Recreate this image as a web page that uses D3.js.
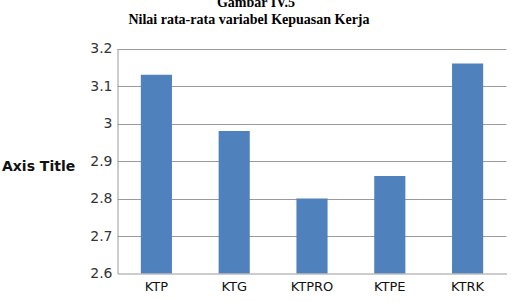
<!DOCTYPE html>
<html>
<head>
<meta charset="utf-8">
<script src="https://cdn.jsdelivr.net/npm/d3@7"></script>
<style>
  body { margin: 0; background: #fff; }
  svg { display: block; }
</style>
</head>
<body>
<svg id="chart" width="514" height="301"></svg>
<script>
const categories = ['KTP', 'KTG', 'KTPRO', 'KTPE', 'KTRK'];
const values = [3.13, 2.98, 2.80, 2.86, 3.16];
const yTicks = [2.6, 2.7, 2.8, 2.9, 3.0, 3.1, 3.2];

const svg = d3.select('#chart');
const plotLeft = 117.5, plotRight = 506.5, plotTop = 48.5, plotBottom = 273.5;

const x = d3.scaleBand().domain(categories).range([plotLeft, plotRight])
  .paddingInner(0.6).paddingOuter(0.3);
const y = d3.scaleLinear().domain([2.6, 3.2]).range([plotBottom, plotTop]);

// title
svg.append('text').attr('x', 256).attr('y', 7)
  .attr('text-anchor', 'middle')
  .style('font', 'bold 14px "Liberation Serif", serif')
  .text('Gambar IV.5');
svg.append('text').attr('x', 249).attr('y', 24)
  .attr('text-anchor', 'middle')
  .style('font', 'bold 14px "Liberation Serif", serif')
  .text('Nilai rata-rata variabel Kepuasan Kerja');

// gridlines
svg.append('g').selectAll('line').data(yTicks.slice(1)).join('line')
  .attr('x1', plotLeft).attr('x2', plotRight)
  .attr('y1', d => Math.round(y(d)) + 0.5).attr('y2', d => Math.round(y(d)) + 0.5)
  .attr('stroke', '#9a9a9a').attr('stroke-width', 1);

// bars
svg.append('g').selectAll('rect').data(values).join('rect')
  .attr('x', (d, i) => x(categories[i]))
  .attr('width', x.bandwidth())
  .attr('y', d => y(d))
  .attr('height', d => plotBottom - y(d))
  .attr('fill', '#4f81bd');

// axes
const yAxis = svg.append('g').attr('transform', `translate(${plotLeft},0)`)
  .call(d3.axisLeft(y).tickValues(yTicks).tickSize(0).tickPadding(5)
    .tickFormat(d => d3.format('')(+d.toFixed(1))));
yAxis.select('.domain').attr('stroke', '#9a9a9a');
yAxis.selectAll('text').style('font', '14px "DejaVu Sans", sans-serif').attr('fill', '#333');

const xAxis = svg.append('g').attr('transform', `translate(0,${plotBottom})`)
  .call(d3.axisBottom(x).tickSize(0).tickPadding(8));
xAxis.select('.domain').attr('stroke', '#9a9a9a');
xAxis.selectAll('text').style('font', '13px "DejaVu Sans", sans-serif').attr('fill', '#111');

// axis title
svg.append('text').attr('x', 2).attr('y', 171)
  .style('font', 'bold 14px "DejaVu Sans", sans-serif')
  .attr('fill', '#111')
  .text('Axis Title');
</script>
</body>
</html>
